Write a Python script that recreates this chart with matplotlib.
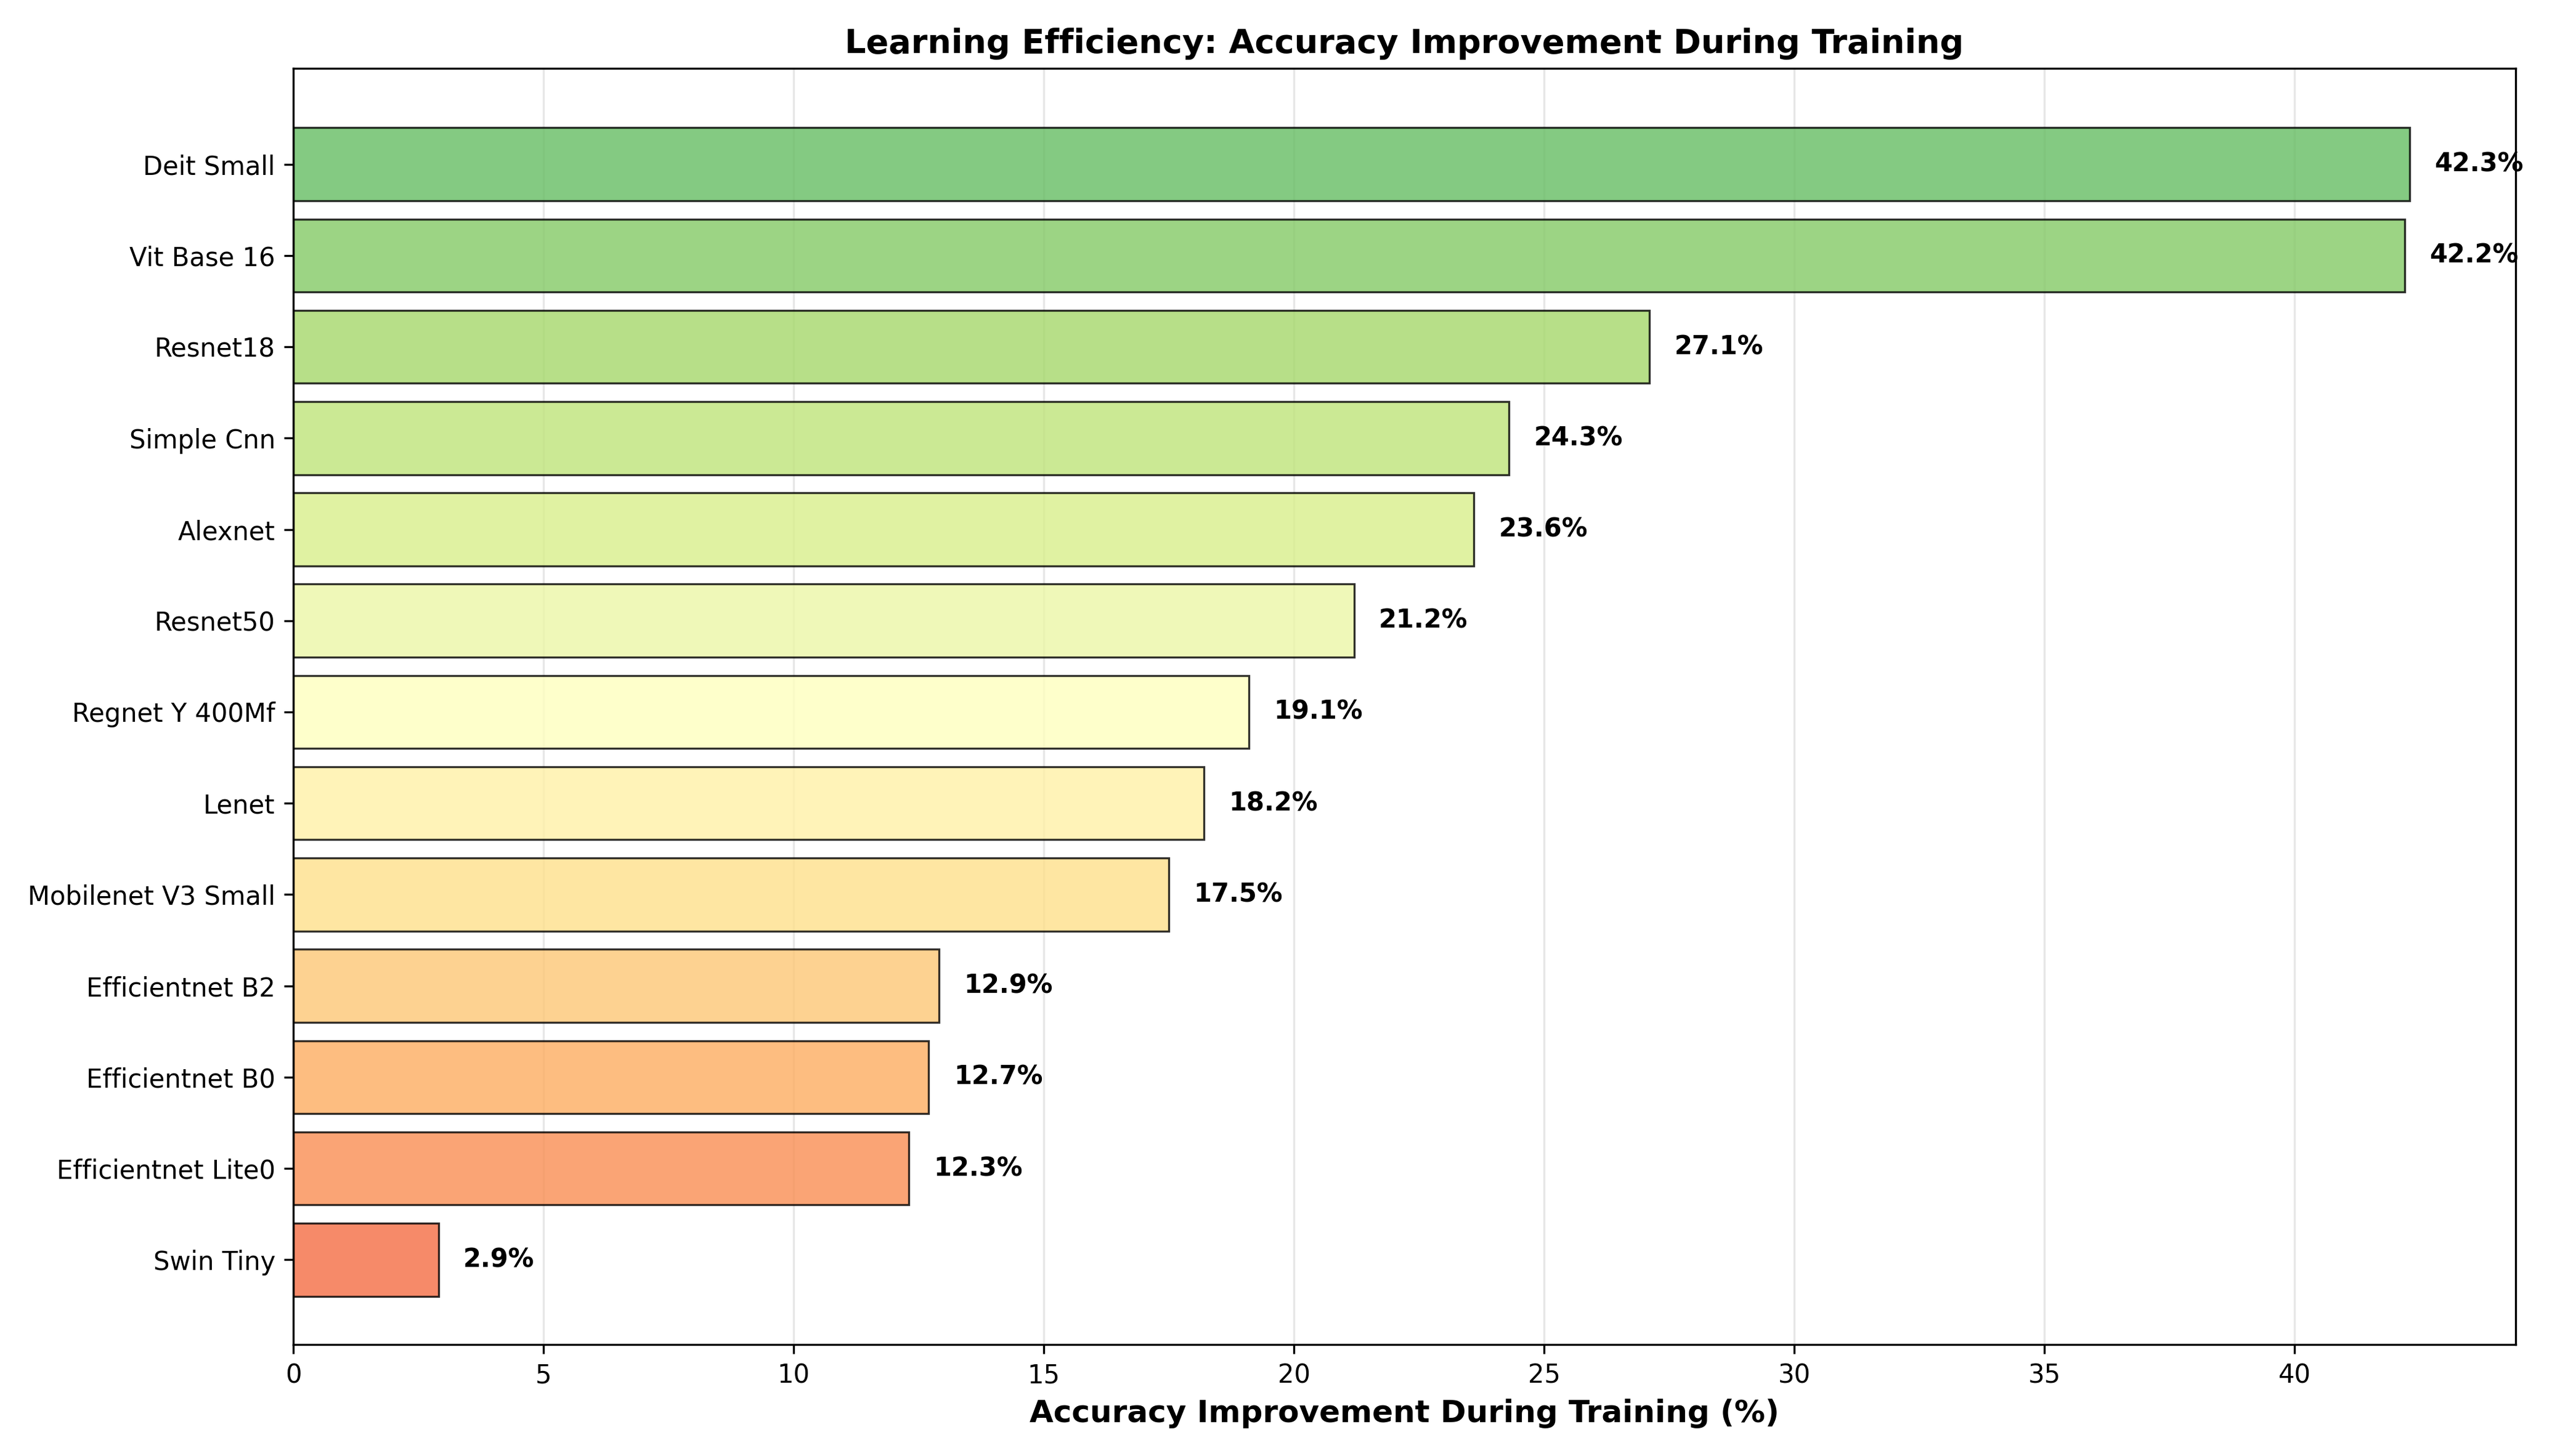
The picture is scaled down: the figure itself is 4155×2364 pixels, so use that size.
import matplotlib
matplotlib.use("Agg")
import matplotlib.pyplot as plt
import numpy as np

models = ["Swin Tiny", "Efficientnet Lite0", "Efficientnet B0", "Efficientnet B2",
          "Mobilenet V3 Small", "Lenet", "Regnet Y 400Mf", "Resnet50", "Alexnet",
          "Simple Cnn", "Resnet18", "Vit Base 16", "Deit Small"]
improvement = [2.9, 12.3, 12.7, 12.9, 17.5, 18.2, 19.1, 21.2, 23.6, 24.3, 27.1, 42.2, 42.3]

fig, ax = plt.subplots(figsize=(13.85, 7.88), dpi=300)
colors = plt.cm.RdYlGn(np.linspace(0.2, 0.8, len(models)))
y = np.arange(len(models))
ax.barh(y, improvement, color=colors, alpha=0.8, edgecolor="black", linewidth=0.8)
for yi, v in zip(y, improvement):
    ax.text(v + 0.5, yi, f"{v:.1f}%", va="center", ha="left", fontweight="bold", fontsize=10)
ax.set_yticks(y)
ax.set_yticklabels(models)
ax.set_xlim(0, max(improvement) * 1.05)
ax.set_ylim(-0.93, len(models) - 1 + 1.05)
ax.set_xlabel("Accuracy Improvement During Training (%)", fontweight="bold", fontsize=12)
ax.set_title("Learning Efficiency: Accuracy Improvement During Training", fontweight="bold", fontsize=13)
ax.grid(axis="x", alpha=0.3)
ax.set_axisbelow(True)
fig.tight_layout()
fig.savefig("out.png", dpi=300)
